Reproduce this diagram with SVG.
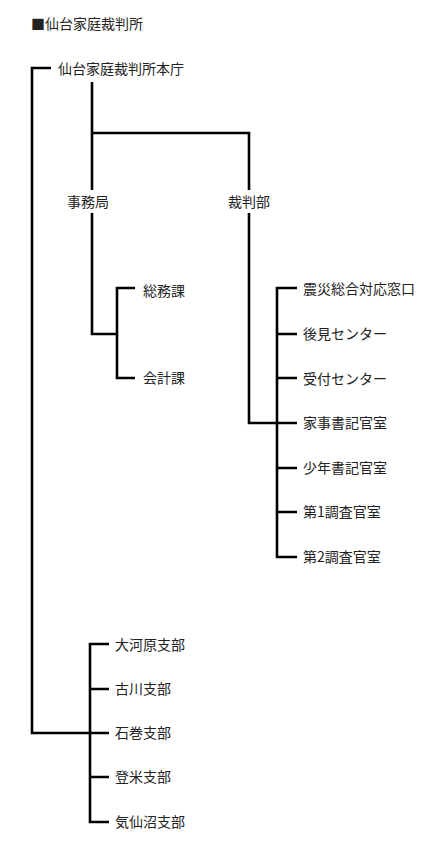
<svg xmlns="http://www.w3.org/2000/svg" width="436" height="849" viewBox="0 0 436 849">
<style>
text{font-family:"Noto Sans CJK JP","Noto Sans",sans-serif;font-size:14px;fill:#222}
.c path{fill:none;stroke:#000;stroke-width:2.6}
</style>
<rect width="436" height="849" fill="#fff"/>
<text x="31" y="29">■仙台家庭裁判所</text>
<g class="c" id="connectors">
<path d="M51,68H32V733H109"/>
<path d="M92,82V190"/>
<path d="M92,133H249V190"/>
<path d="M92,213V334H117"/>
<path d="M135,288H117V378H135"/>
<path d="M249,213V423H297"/>
<path d="M297,288H277V557H297"/>
<path d="M277,334H297M277,378H297M277,468H297M277,512H297"/>
<path d="M109,644H90V822H109"/>
<path d="M90,689H109M90,777H109"/>
</g>
<g id="n-honcho"><text x="58" y="74">仙台家庭裁判所本庁</text></g>
<g id="n-jimukyoku"><text x="67" y="206.5">事務局</text></g>
<g id="n-saibanbu"><text x="228" y="206.5">裁判部</text></g>
<g id="n-somuka"><text x="143" y="296">総務課</text></g>
<g id="n-kaikeika"><text x="143" y="383">会計課</text></g>
<g id="n-shinsai"><text x="303" y="294">震災総合対応窓口</text></g>
<g id="n-kouken"><text x="303" y="339">後見センター</text></g>
<g id="n-uketsuke"><text x="303" y="384">受付センター</text></g>
<g id="n-kaji"><text x="303" y="428">家事書記官室</text></g>
<g id="n-shonen"><text x="303" y="473">少年書記官室</text></g>
<g id="n-chosa1"><text x="303" y="517">第1調査官室</text></g>
<g id="n-chosa2"><text x="303" y="562">第2調査官室</text></g>
<g id="n-okawara"><text x="115" y="650">大河原支部</text></g>
<g id="n-furukawa"><text x="115" y="694">古川支部</text></g>
<g id="n-ishinomaki"><text x="115" y="738">石巻支部</text></g>
<g id="n-tome"><text x="115" y="782">登米支部</text></g>
<g id="n-kesennuma"><text x="115" y="827">気仙沼支部</text></g>
</svg>
